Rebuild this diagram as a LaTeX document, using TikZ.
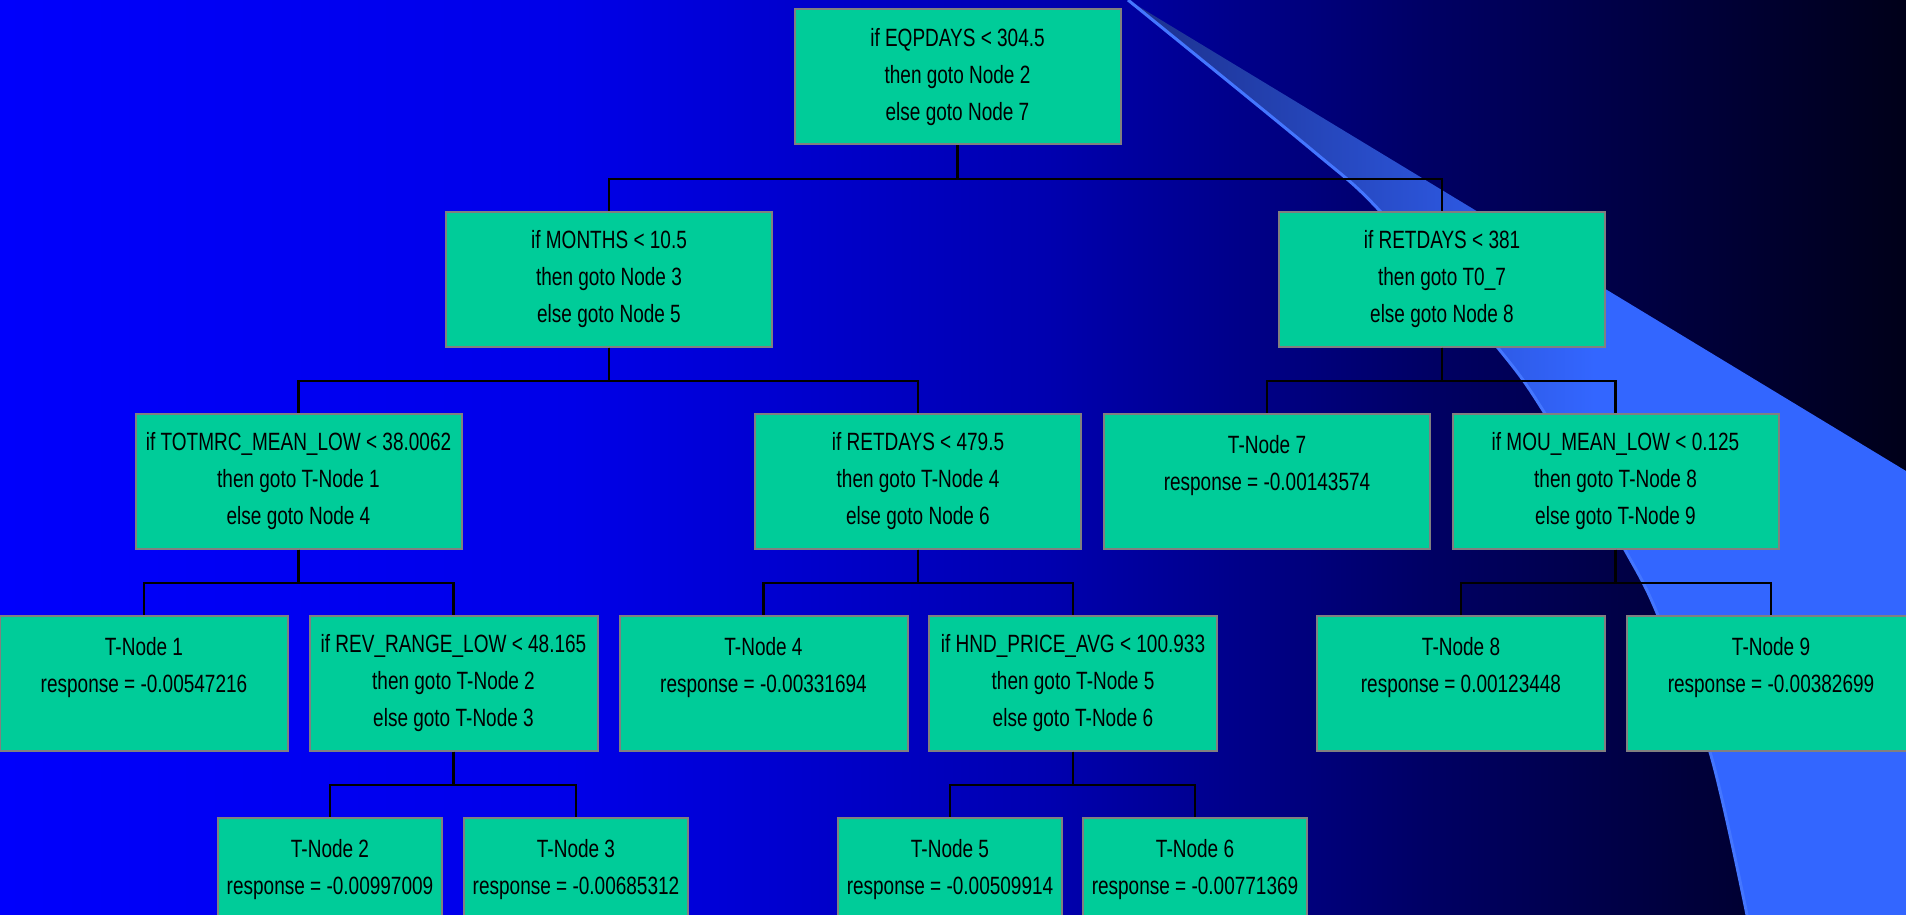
\documentclass[tikz,border=0pt]{standalone}
\usepackage{fontspec}
\setmainfont[FakeStretch=0.76]{Liberation Sans}
\definecolor{bgA}{RGB}{0,0,252}
\definecolor{bgB}{RGB}{0,0,232}
\definecolor{bgC}{RGB}{0,0,175}
\definecolor{bgD}{RGB}{0,0,100}
\definecolor{bgE}{RGB}{0,0,25}
\definecolor{bandA}{RGB}{28,48,140}
\definecolor{bandB}{RGB}{51,102,255}
\definecolor{edgeline}{RGB}{68,118,255}
\definecolor{boxfill}{RGB}{0,204,153}
\definecolor{boxborder}{RGB}{128,128,128}
\pgfdeclarehorizontalshading{bgshade}{100bp}{color(0bp)=(bgA); color(25bp)=(bgA); color(40bp)=(bgB); color(52.5bp)=(bgC); color(62.5bp)=(bgD); color(75bp)=(bgE); color(100bp)=(bgE)}
\pgfdeclarehorizontalshading{bandshade}{100bp}{color(0bp)=(bandA); color(25bp)=(bandA); color(55bp)=(bandB); color(100bp)=(bandB)}
\begin{document}
\begin{tikzpicture}[x=1pt,y=-1pt,
  tbox/.style={draw=boxborder, line width=2pt, fill=boxfill, minimum height=135pt,
    anchor=north, align=center, inner sep=0pt, text=black,
    font=\fontsize{25}{37}\selectfont},
  wA/.style={minimum width=326pt},
  wB/.style={minimum width=288pt},
  wC/.style={minimum width=224pt},
  conn/.style={draw=black, line width=2.5pt}]
\useasboundingbox (0,0) rectangle (1906,915);
\clip (0,0) rectangle (1906,915);
\shade[shading=bgshade] (0,0) rectangle (1906,915);
% decorative swoosh
\shade[shading=bandshade] (1128,0) -- (1906,471) -- (1906,915) --
  plot[smooth] coordinates {(1747,915) (1710,752) (1657,613) (1625,550) (1544,412) (1498,348) (1379,210) (1312,150) (1128,0)} -- cycle;
\draw[edgeline, line width=3pt] plot[smooth] coordinates {(1747,915) (1710,752) (1657,613) (1625,550) (1544,412) (1498,348) (1379,210) (1312,150) (1128,0)};
% level 0
\node[tbox, wA] (n1) at (957.5,8.5) {if EQPDAYS < 304.5\\then goto Node 2\\else goto Node 7};
% level 1
\node[tbox, wA] (n2) at (609,210.5) {if MONTHS < 10.5\\then goto Node 3\\else goto Node 5};
\node[tbox, wA] (n3) at (1442,210.5) {if RETDAYS < 381\\then goto T0\_7\\else goto Node 8};
% level 2
\node[tbox, wA] (n4) at (298.5,412.5) {if TOTMRC\_MEAN\_LOW < 38.0062\\then goto T-Node 1\\else goto Node 4};
\node[tbox, wA] (n5) at (918,412.5) {if RETDAYS < 479.5\\then goto T-Node 4\\else goto Node 6};
\node[tbox, wA] (t7) at (1267,412.5) {T-Node 7\\response = -0.00143574\\\mbox{}};
\node[tbox, wA] (n8) at (1615.5,412.5) {if MOU\_MEAN\_LOW < 0.125\\then goto T-Node 8\\else goto T-Node 9};
% level 3
\node[tbox, wB] (t1) at (144,614.5) {T-Node 1\\response = -0.00547216\\\mbox{}};
\node[tbox, wB] (n6) at (453.5,614.5) {if REV\_RANGE\_LOW < 48.165\\then goto T-Node 2\\else goto T-Node 3};
\node[tbox, wB] (t4) at (763.5,614.5) {T-Node 4\\response = -0.00331694\\\mbox{}};
\node[tbox, wB] (n7) at (1073,614.5) {if HND\_PRICE\_AVG < 100.933\\then goto T-Node 5\\else goto T-Node 6};
\node[tbox, wB] (t8) at (1461,614.5) {T-Node 8\\response = 0.00123448\\\mbox{}};
\node[tbox, wB] (t9) at (1771,614.5) {T-Node 9\\response = -0.00382699\\\mbox{}};
% level 4
\node[tbox, wC] (t2) at (330,816.5) {T-Node 2\\response = -0.00997009\\\mbox{}};
\node[tbox, wC] (t3) at (576,816.5) {T-Node 3\\response = -0.00685312\\\mbox{}};
\node[tbox, wC] (t5) at (950,816.5) {T-Node 5\\response = -0.00509914\\\mbox{}};
\node[tbox, wC] (t6) at (1195,816.5) {T-Node 6\\response = -0.00771369\\\mbox{}};
% connectors
\foreach \p/\c in {n1/n2,n1/n3,n2/n4,n2/n5,n3/t7,n3/n8,n4/t1,n4/n6,n5/t4,n5/n7,n8/t8,n8/t9,n6/t2,n6/t3,n7/t5,n7/t6}
  \draw[conn] (\p.south) -- ++(0,33.5) -| (\c.north);
\end{tikzpicture}
\end{document}
